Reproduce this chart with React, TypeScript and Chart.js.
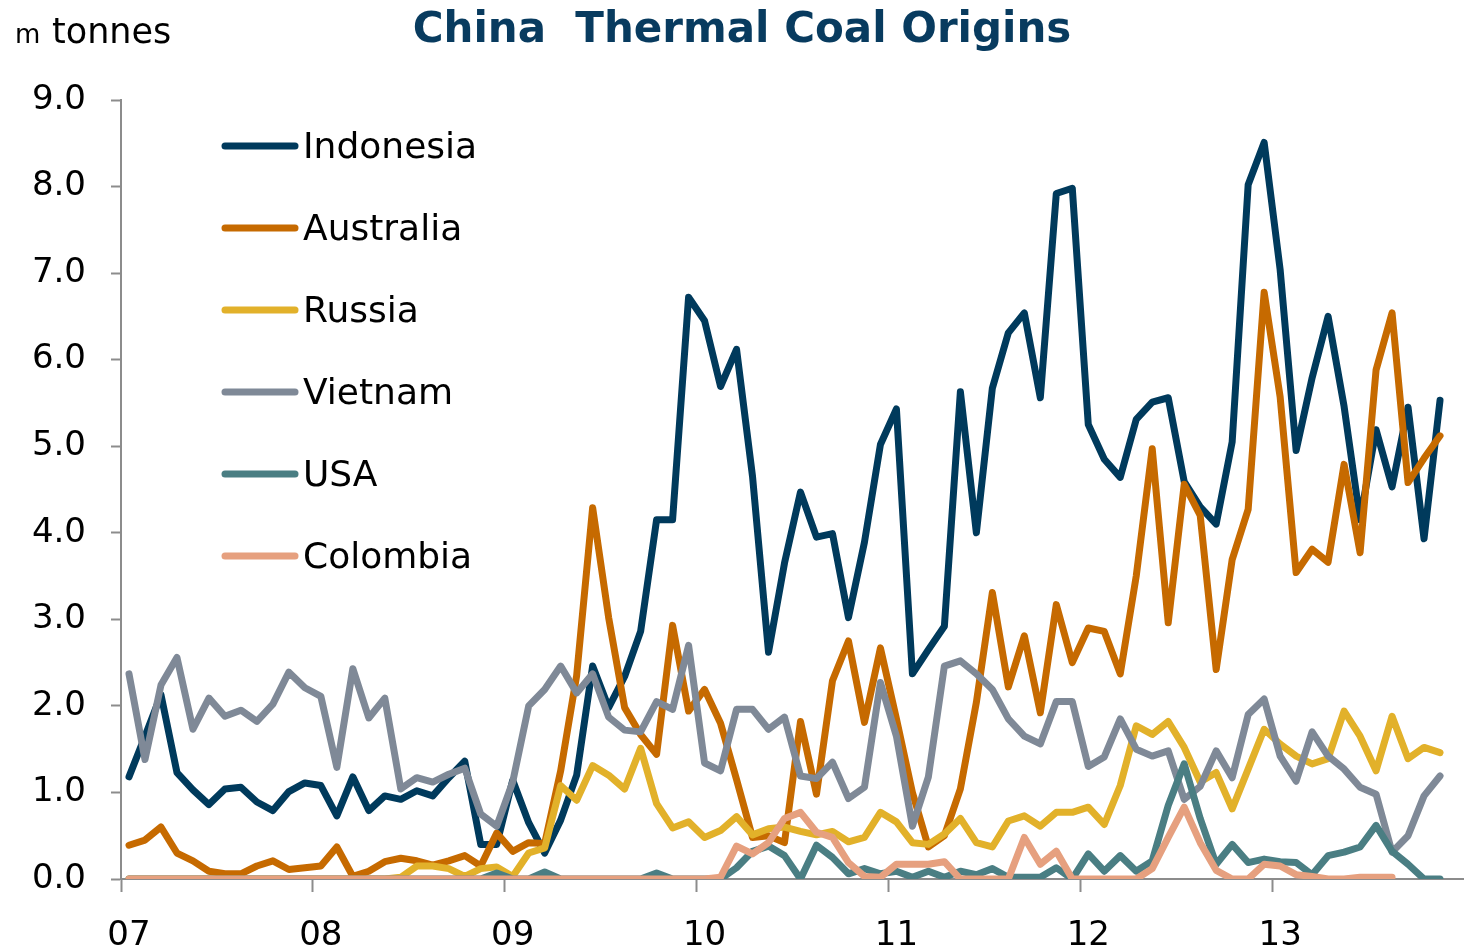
import React, { useEffect, useRef } from 'react';
import { Chart, registerables } from 'chart.js';

Chart.register(...registerables);

// Year tick labels; one category per month, Jan 2007 .. Dec 2013
const yearLabels = ['07', '08', '09', '10', '11', '12', '13'];
const monthLabels = yearLabels.flatMap((y) =>
  ['01', '02', '03', '04', '05', '06', '07', '08', '09', '10', '11', '12'].map((m) => `${y}-${m}`)
);

// Monthly imports, m tonnes (Jan 2007 onwards)
const indonesia = [
  1.18, 1.65, 2.13, 1.23, 1.03, 0.86, 1.04, 1.06, 0.89, 0.79, 1.01, 1.11,
  1.08, 0.73, 1.18, 0.79, 0.96, 0.92, 1.02, 0.96, 1.17, 1.36, 0.40, 0.40,
  1.14, 0.65, 0.30, 0.68, 1.20, 2.46, 1.98, 2.34, 2.86, 4.15, 4.15, 6.72,
  6.45, 5.69, 6.12, 4.65, 2.62, 3.65, 4.47, 3.95, 3.99, 3.02, 3.89, 5.02,
  5.43, 2.37, 2.65, 2.92, 5.63, 4.00, 5.67, 6.31, 6.54, 5.56, 7.92, 7.98,
  5.25, 4.85, 4.64, 5.31, 5.51, 5.56, 4.59, 4.30, 4.10, 5.05, 8.02, 8.51,
  7.04, 4.95, 5.79, 6.50, 5.46, 4.15, 5.19, 4.53, 5.45, 3.93, 5.53,
];
const australia = [
  0.39, 0.45, 0.60, 0.30, 0.21, 0.09, 0.06, 0.06, 0.15, 0.21, 0.11, 0.13,
  0.15, 0.37, 0.03, 0.09, 0.20, 0.24, 0.21, 0.16, 0.21, 0.27, 0.15, 0.53,
  0.32, 0.42, 0.41, 1.25, 2.35, 4.29, 3.02, 1.98, 1.67, 1.44, 2.93, 1.94,
  2.19, 1.80, 1.15, 0.48, 0.50, 0.42, 1.82, 0.98, 2.29, 2.75, 1.81, 2.67,
  1.85, 1.00, 0.37, 0.50, 1.04, 2.04, 3.31, 2.22, 2.81, 1.92, 3.17, 2.50,
  2.90, 2.86, 2.37, 3.50, 4.97, 2.96, 4.56, 4.20, 2.42, 3.69, 4.27, 6.78,
  5.57, 3.54, 3.81, 3.66, 4.79, 3.77, 5.88, 6.54, 4.58, 4.86, 5.12,
];
const russia = [
  0, 0, 0, 0, 0, 0, 0, 0, 0, 0, 0, 0,
  0, 0, 0, 0, 0, 0.02, 0.15, 0.15, 0.12, 0.03, 0.12, 0.14,
  0.03, 0.30, 0.36, 1.08, 0.91, 1.31, 1.20, 1.04, 1.51, 0.87, 0.59, 0.66,
  0.48, 0.56, 0.72, 0.51, 0.58, 0.60, 0.55, 0.51, 0.55, 0.43, 0.48, 0.77,
  0.66, 0.42, 0.40, 0.52, 0.70, 0.42, 0.37, 0.67, 0.73, 0.61, 0.77, 0.77,
  0.83, 0.63, 1.08, 1.77, 1.67, 1.82, 1.52, 1.12, 1.23, 0.81, 1.27, 1.73,
  1.56, 1.42, 1.33, 1.39, 1.94, 1.65, 1.25, 1.88, 1.39, 1.52, 1.46,
];
const vietnam = [
  2.37, 1.38, 2.24, 2.56, 1.73, 2.09, 1.88, 1.95, 1.82, 2.02, 2.39, 2.21,
  2.11, 1.29, 2.43, 1.86, 2.09, 1.04, 1.17, 1.12, 1.21, 1.28, 0.75, 0.61,
  1.12, 2.00, 2.19, 2.46, 2.15, 2.37, 1.87, 1.72, 1.70, 2.05, 1.96, 2.70,
  1.34, 1.25, 1.96, 1.96, 1.73, 1.87, 1.19, 1.16, 1.35, 0.93, 1.06, 2.27,
  1.65, 0.61, 1.18, 2.46, 2.52, 2.37, 2.19, 1.85, 1.65, 1.56, 2.05, 2.05,
  1.30, 1.41, 1.85, 1.50, 1.42, 1.48, 0.92, 1.07, 1.48, 1.17, 1.90, 2.08,
  1.42, 1.13, 1.70, 1.42, 1.27, 1.06, 0.98, 0.31, 0.50, 0.96, 1.19,
];
const usa = [
  0, 0, 0, 0, 0, 0, 0, 0, 0, 0, 0, 0,
  0, 0, 0, 0, 0, 0, 0, 0, 0, 0, 0, 0.07,
  0, 0, 0.08, 0, 0, 0, 0, 0, 0, 0.07, 0, 0,
  0, 0, 0.13, 0.32, 0.38, 0.27, 0.00, 0.39, 0.25, 0.06, 0.12, 0.06,
  0.09, 0.02, 0.09, 0.02, 0.09, 0.05, 0.12, 0.02, 0.02, 0.02, 0.13, 0.00,
  0.29, 0.09, 0.27, 0.09, 0.21, 0.85, 1.33, 0.70, 0.17, 0.40, 0.19, 0.23,
  0.20, 0.19, 0.05, 0.27, 0.31, 0.37, 0.62, 0.32, 0.17, 0.00, 0.00,
];
const colombia = [
  0, 0, 0, 0, 0, 0, 0, 0, 0, 0, 0, 0,
  0, 0, 0, 0, 0, 0, 0, 0, 0, 0, 0, 0,
  0, 0, 0, 0, 0, 0, 0, 0, 0, 0, 0, 0,
  0, 0.02, 0.38, 0.29, 0.42, 0.70, 0.77, 0.54, 0.48, 0.19, 0.03, 0.02,
  0.17, 0.17, 0.17, 0.20, 0, 0, 0, 0, 0.48, 0.17, 0.32, 0,
  0, 0, 0, 0, 0.12, 0.48, 0.83, 0.42, 0.10, 0, 0, 0.17,
  0.15, 0.05, 0.03, 0, 0, 0.02, 0.02, 0.02,
];

const seriesNames = ['Indonesia', 'Australia', 'Russia', 'Vietnam', 'USA', 'Colombia'];
const seriesValues = [indonesia, australia, russia, vietnam, usa, colombia];
const seriesColors = ['#003a5c', '#c66a00', '#e2b12a', '#7f8997', '#4a7e83', '#e6a07f'];

const TITLE = 'China  Thermal Coal Origins';
const TITLE_COLOR = '#083b5f';
const AXIS_COLOR = '#8c8c8c';
const FONT = '"DejaVu Sans", Verdana, sans-serif';
const LINE_WIDTH = 7;

// Title, unit label and the in-plot key
const decorations = {
  id: 'decorations',
  afterDraw(chart: any) {
    const { ctx, chartArea } = chart;
    ctx.save();

    ctx.fillStyle = TITLE_COLOR;
    ctx.font = `bold 42px ${FONT}`;
    ctx.textAlign = 'center';
    ctx.textBaseline = 'alphabetic';
    ctx.fillText(TITLE, 742, 42);

    ctx.fillStyle = '#000';
    ctx.textAlign = 'left';
    ctx.font = `26px ${FONT}`;
    ctx.fillText('m', 15, 43);
    ctx.font = `35px ${FONT}`;
    ctx.fillText('tonnes', 52, 43);

    const x0 = chartArea.left + 104;
    seriesNames.forEach((name, k) => {
      const y = chartArea.top + 46 + k * 82;
      ctx.strokeStyle = seriesColors[k];
      ctx.lineWidth = LINE_WIDTH;
      ctx.lineCap = 'round';
      ctx.beginPath();
      ctx.moveTo(x0, y);
      ctx.lineTo(x0 + 70, y);
      ctx.stroke();
      ctx.fillStyle = '#000';
      ctx.font = `36px ${FONT}`;
      ctx.fillText(name, x0 + 78, y + 12);
    });
    ctx.restore();
  },
};

export default function App() {
  const canvasRef = useRef<HTMLCanvasElement | null>(null);

  useEffect(() => {
    if (!canvasRef.current) return;
    const n = seriesNames.length;
    const chart = new Chart(canvasRef.current, {
      type: 'line',
      data: {
        labels: monthLabels,
        datasets: seriesNames.map((name, k) => ({
          label: name,
          data: seriesValues[k],
          borderColor: seriesColors[k],
          backgroundColor: seriesColors[k],
          borderWidth: LINE_WIDTH,
          borderCapStyle: 'round',
          borderJoinStyle: 'round',
          pointRadius: 0,
          tension: 0,
          fill: false,
          // later series are painted over earlier ones
          order: n - k,
        })),
      },
      options: {
        animation: false,
        responsive: true,
        maintainAspectRatio: false,
        layout: { padding: { top: 100, right: 0, left: 0, bottom: 0 } },
        plugins: {
          legend: { display: false },
          tooltip: { enabled: false },
          title: { display: false },
        },
        scales: {
          x: {
            type: 'category',
            offset: true,
            grid: {
              offset: true,
              drawOnChartArea: false,
              drawTicks: true,
              tickLength: 13,
              tickWidth: 2,
              tickColor: (c: any) =>
                c.index % 12 === 0 && c.index < monthLabels.length ? AXIS_COLOR : 'rgba(0,0,0,0)',
            },
            border: { display: true, color: AXIS_COLOR, width: 2 },
            ticks: {
              autoSkip: false,
              maxRotation: 0,
              minRotation: 0,
              padding: 24,
              color: '#000',
              font: { family: FONT, size: 34 },
              callback: (_v: any, i: number) => (i % 12 === 0 ? yearLabels[i / 12] : ''),
            },
            afterFit: (s: any) => {
              s.height = 70;
              s.paddingLeft = 0;
              s.paddingRight = 0;
            },
          },
          y: {
            min: 0,
            max: 9,
            grid: {
              drawOnChartArea: false,
              drawTicks: true,
              tickLength: 10,
              tickWidth: 2,
              tickColor: AXIS_COLOR,
            },
            border: { display: true, color: AXIS_COLOR, width: 2 },
            ticks: {
              stepSize: 1,
              padding: 25,
              color: '#000',
              font: { family: FONT, size: 34 },
              callback: (v: any) => Number(v).toFixed(1),
            },
            afterFit: (s: any) => {
              s.width = 121;
              s.paddingTop = 0;
              s.paddingBottom = 0;
            },
          },
        },
      },
      plugins: [decorations],
    });
    return () => chart.destroy();
  }, []);

  return (
    <div
      style={{
        position: 'fixed',
        left: 0,
        top: 0,
        width: 1464,
        height: 949,
        background: '#fff',
      }}
    >
      <canvas ref={canvasRef} />
    </div>
  );
}
